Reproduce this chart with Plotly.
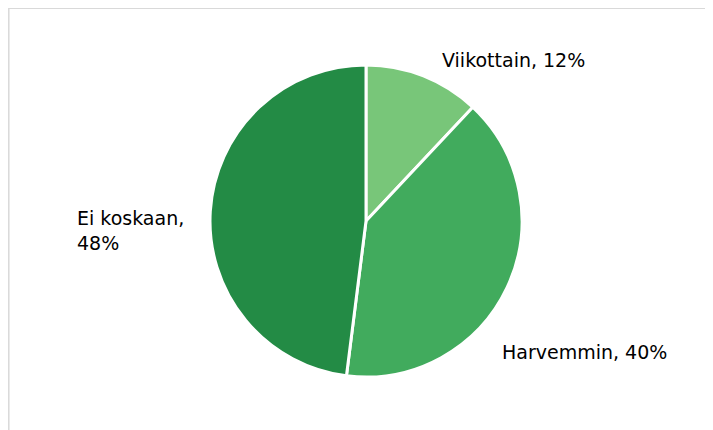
import plotly.graph_objects as go

categories = ["Viikottain", "Harvemmin", "Ei koskaan"]
values = [12, 40, 48]
colors = ["#78C679", "#41AB5D", "#238B45"]

OFF = 8  # page body margin
W, H = 713 - OFF, 430 - OFF


def px_x(x):
    return (x - OFF) / W


def px_y(y):
    return 1 - (y - OFF) / H


fig = go.Figure(go.Pie(
    labels=categories, values=values, sort=False, direction="clockwise", rotation=0,
    marker=dict(colors=colors, line=dict(color="white", width=3)),
    textinfo="none", hoverinfo="label+percent", showlegend=False,
    domain=dict(x=[px_x(210), px_x(522)], y=[px_y(377), px_y(65)]),
))

label_pos = [(440, 60), (500, 352), (75, 231)]
texts = [f"{categories[0]}, {values[0]}%", f"{categories[1]}, {values[1]}%", f"{categories[2]},<br>{values[2]}%"]
for (px, py), t in zip(label_pos, texts):
    fig.add_annotation(x=px_x(px), y=px_y(py), xref="paper", yref="paper", text=t,
                       showarrow=False, xanchor="left", yanchor="middle", align="left",
                       font=dict(family="DejaVu Sans", size=19, color="#000000"))

fig.add_shape(type="rect", xref="paper", yref="paper", x0=0.8 / W, y0=-0.1, x1=1.1, y1=1 - 0.2 / H,
              line=dict(color="#D9D9D9", width=1.5), fillcolor="rgba(0,0,0,0)")

fig.update_layout(width=W, height=H, margin=dict(l=0, r=0, t=0, b=0),
                  paper_bgcolor="white", plot_bgcolor="white")
fig.write_html("out.html")
